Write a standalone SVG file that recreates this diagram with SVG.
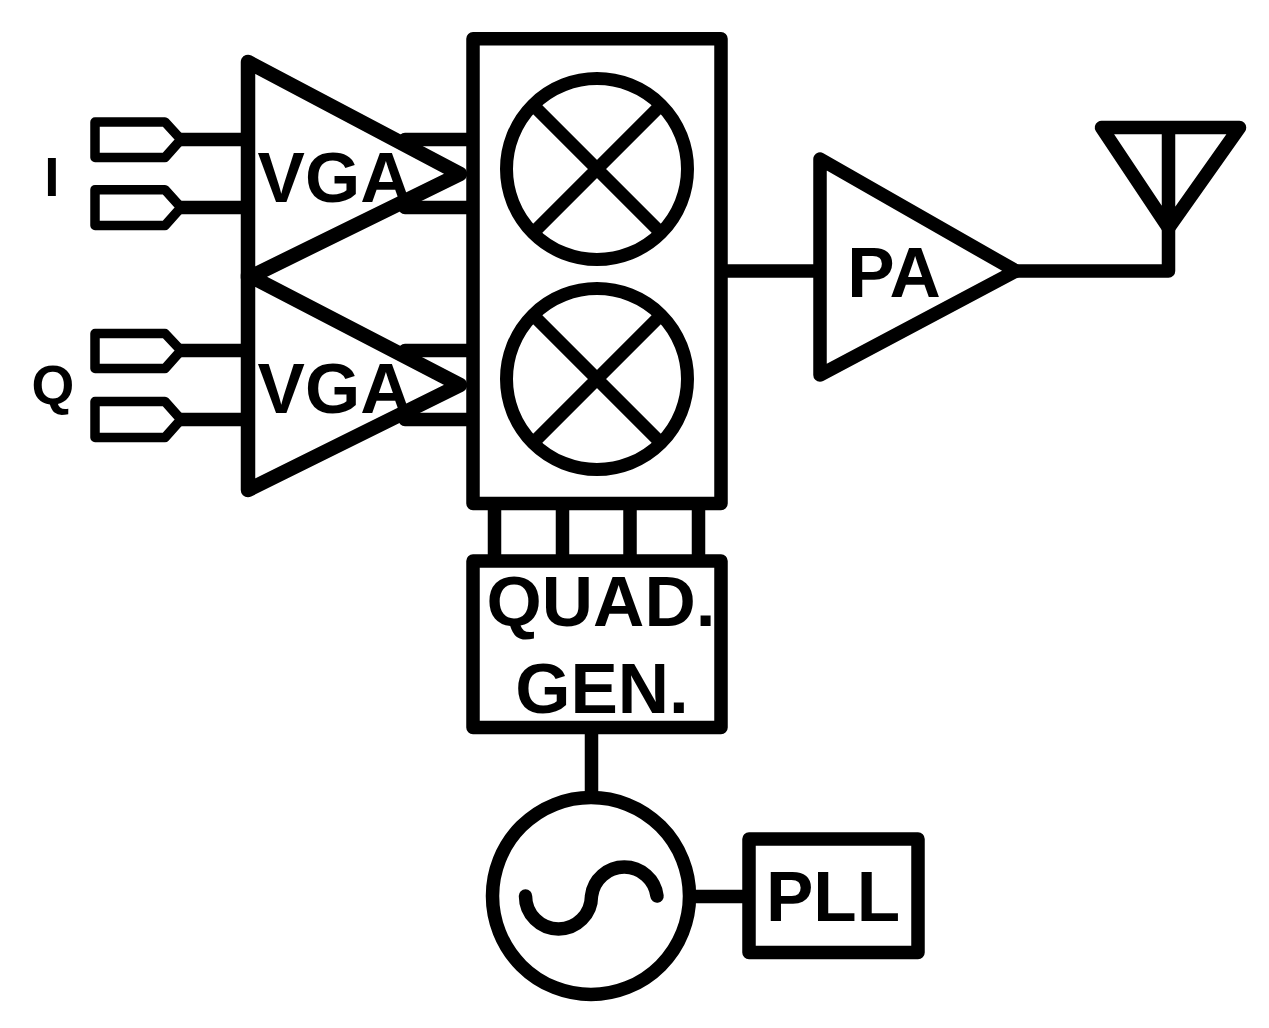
<svg xmlns="http://www.w3.org/2000/svg" width="1269" height="1028" viewBox="0 0 1269 1028">
<style>
.s{fill:none;stroke:#000;stroke-width:13.5;stroke-linejoin:round;stroke-linecap:round}
.c{fill:none;stroke:#000;stroke-width:13.5}
.p{fill:none;stroke:#000;stroke-width:9.5;stroke-linejoin:round}
.v{fill:none;stroke:#000;stroke-width:13;stroke-linejoin:round}
.d{fill:none;stroke:#000;stroke-width:14.5;stroke-linejoin:round;stroke-linecap:round}
text{font-family:"Liberation Sans",Arial,sans-serif;font-weight:700;fill:#000;text-anchor:middle}
.l{font-size:71px}
.t{font-size:55px}
</style>
<rect width="1269" height="1028" fill="#fff"/>
<g id="connectors">
<path class="c" d="M178 139.5H248M178 207.500H248M178 350.500H248M178 419.500H248"/>
<path class="s" d="M405 139.5H470M405 207.500H470M405 350.500H470M405 419.500H470"/>
<path class="c" d="M721 271H820"/>
<path class="s" d="M1016 271H1168.500V228"/>
<path class="c" d="M494.500 503V561M562.500 503V561M630 503V561M698.500 503V561"/>
<path class="c" d="M591.500 727V797M690 896.500H749"/>
</g>
<g id="port-i1"><path class="p" d="M95 122H165L181 139.500L165 157.500H95Z"/></g>
<g id="port-i2"><path class="p" d="M95 189.700H165L181 207.500L165 225.500H95Z"/></g>
<g id="port-q1"><path class="p" d="M95 333.500H165L181 350.500L165 368.500H95Z"/></g>
<g id="port-q2"><path class="p" d="M95 401.500H165L181 419.500L165 437.500H95Z"/></g>
<text class="t" x="52" y="196">I</text>
<text class="t" x="53" y="404">Q</text>
<g id="vga1"><path class="d" d="M248 62V278L460 174Z"/><text class="l" x="334.500" y="201.500">VGA</text></g>
<g id="vga2"><path class="d" d="M248 275V490L460 385Z"/><text class="l" x="334.500" y="413">VGA</text></g>
<g id="mixers">
<rect class="s" x="473" y="38.700" width="248" height="464.800"/>
<circle class="v" cx="597" cy="169" r="90.500"/>
<path class="v" d="M532 104L662 234M662 104L532 234"/>
<circle class="v" cx="597" cy="379" r="90.500"/>
<path class="v" d="M532 314L662 444M662 314L532 444"/>
</g>
<g id="quad"><rect class="s" x="473" y="561" width="248" height="166.500"/>
<text class="l" x="601" y="626">QUAD.</text>
<text class="l" x="602" y="713">GEN.</text></g>
<g id="pa"><path class="s" d="M820 159V375L1016 271Z"/><text class="l" x="894" y="297">PA</text></g>
<g id="antenna"><path class="s" d="M1101.500 127.500H1239.500L1168.500 228ZM1168.500 127.500V228"/></g>
<g id="vco"><circle class="s" cx="591" cy="896" r="98.500"/>
<path class="s" d="M525.500 896A33 33 0 0 0 591.500 896A33 33 0 0 1 657 896"/></g>
<g id="pll"><rect class="s" x="749" y="839" width="169" height="113.500"/><text class="l" x="833" y="921">PLL</text></g>
</svg>
